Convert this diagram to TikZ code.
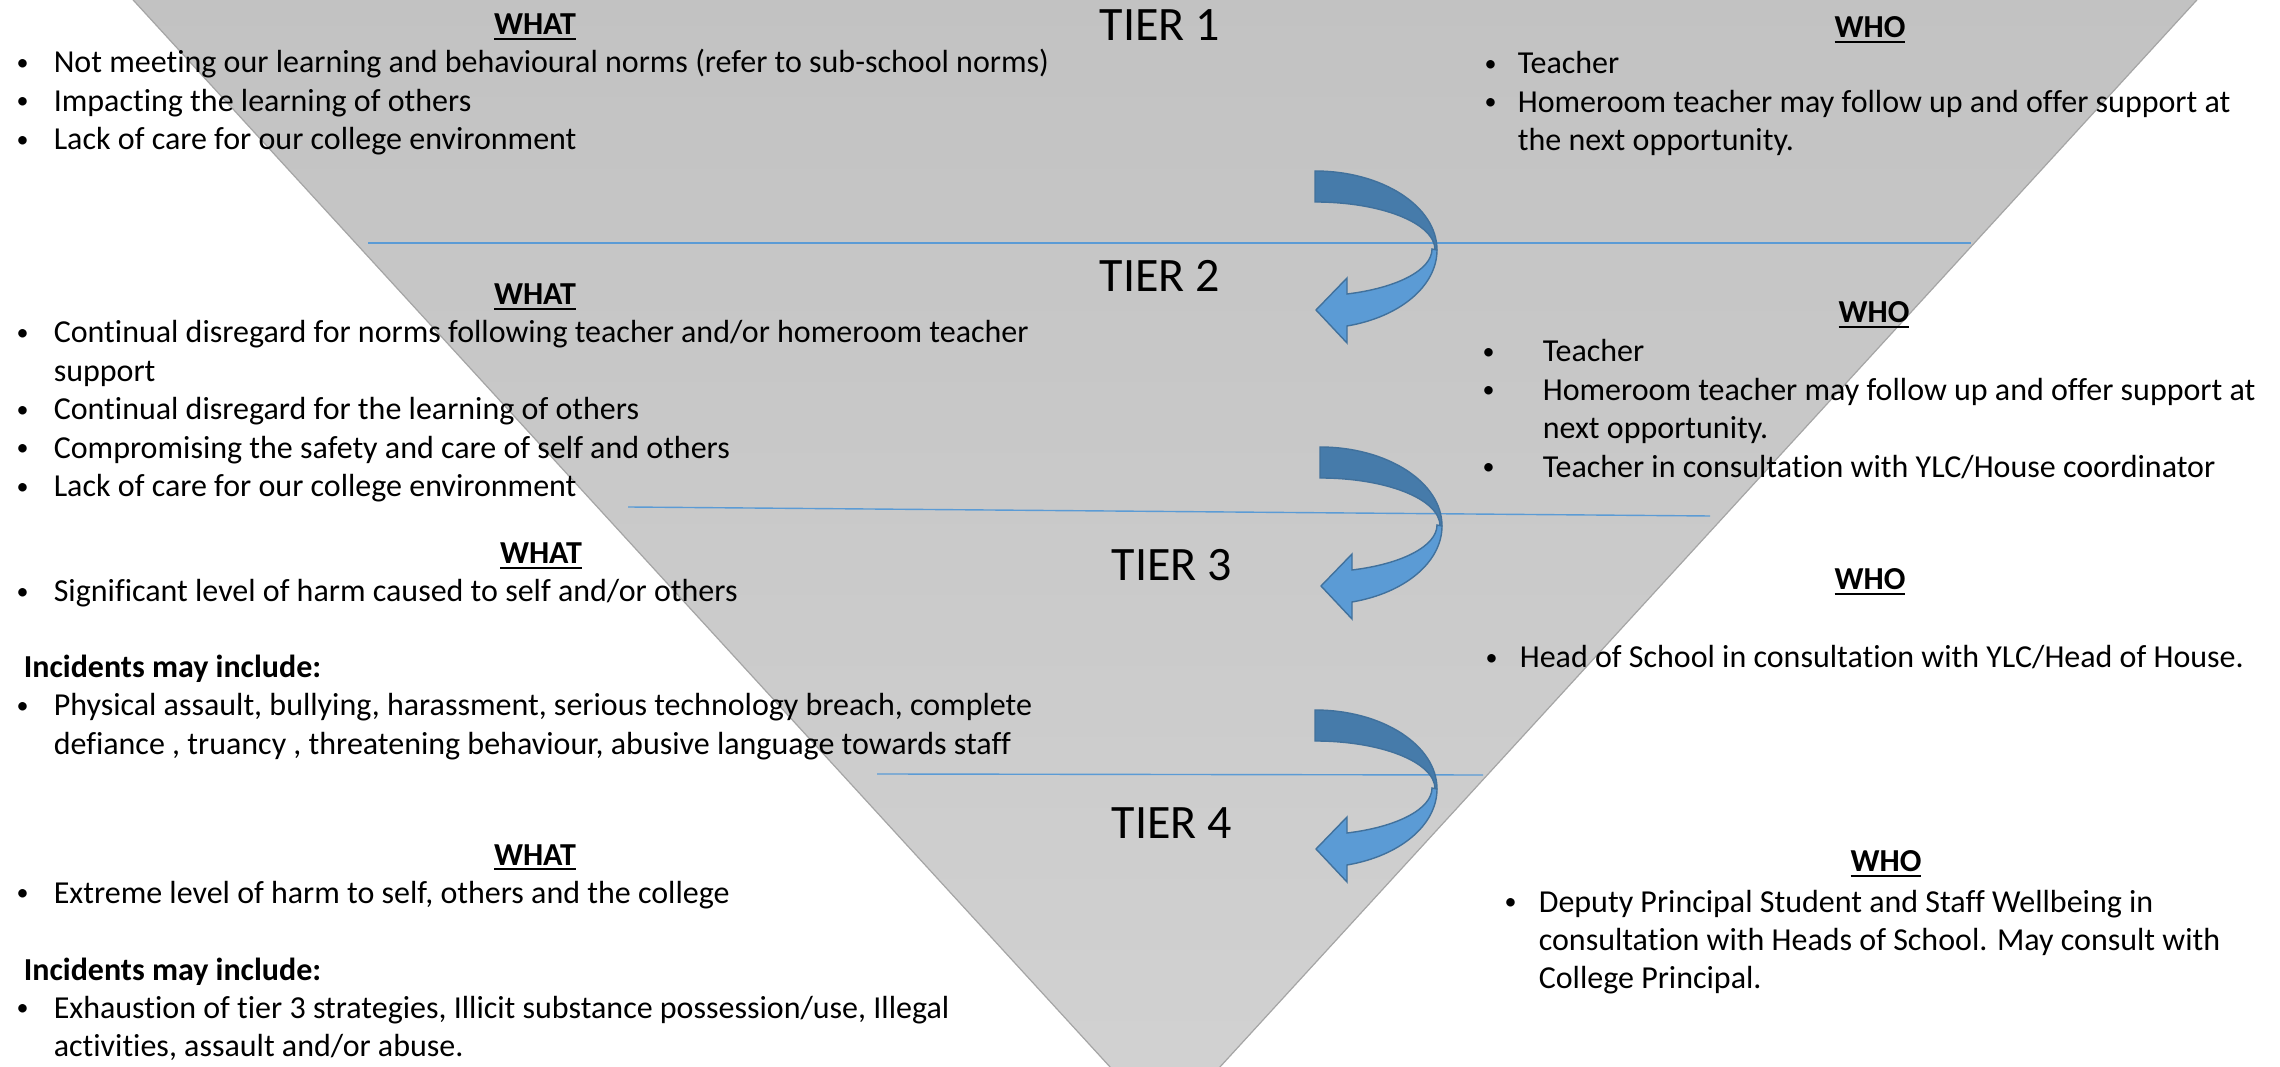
\documentclass[tikz,border=0pt]{standalone}
\usepackage{fontspec}
\setmainfont{Carlito}[Ligatures=NoCommon]

\definecolor{triTop}{HTML}{C2C2C2}
\definecolor{triBot}{HTML}{D2D2D2}
\definecolor{triEdge}{HTML}{A5A5A5}
\definecolor{lineBlue}{HTML}{5B9BD5}
\definecolor{arrDark}{HTML}{467BAA}
\definecolor{arrLight}{HTML}{5B9BD5}
\definecolor{arrEdge}{HTML}{41719C}

\newcommand{\bodyfont}{\fontsize{8pt}{9.6pt}\selectfont}
\newcommand{\tierfont}{\fontsize{12pt}{14.4pt}\selectfont}
\newcommand{\itemdot}{\hspace*{1.2pt}\raisebox{0.6pt}{\fontsize{6pt}{6pt}\selectfont\textbullet}}
\newcommand{\bitems}[2]{\begin{tabular}[t]{@{}p{#1}@{}l@{}}#2\end{tabular}}
\newlength{\uheadw}
\newcommand{\uhead}[1]{\settowidth{\uheadw}{#1}\rlap{\rule[-1.3pt]{\uheadw}{0.55pt}}#1}

\begin{document}
\begin{tikzpicture}[x=0.25pt,y=-0.25pt,
    body/.style={font=\bodyfont,inner sep=0pt,anchor=base west},
    head/.style={font=\bodyfont\bfseries,inner sep=0pt,anchor=base},
    tier/.style={font=\tierfont,inner sep=0pt,anchor=base},
    divider/.style={draw=lineBlue,line width=0.35pt}]
    \fill[white] (0,0) rectangle (2280,1067);
    \useasboundingbox (0,0) rectangle (2280,1067);

    % the pyramid
    \shade[top color=triTop,bottom color=triBot,draw=triEdge,line width=0.3pt]
        (124,-10) -- (2206,-10) -- (1165,1127) -- cycle;

    \draw[divider] (368,243) -- (1971,243);
    \draw[divider] (628,507) -- (1710,516);
    \draw[divider] (877,774) -- (1483,775);

    % curved arrows between tiers
    \foreach \ax/\ay in {1315/171,1320/447,1315/710} {
        \begin{scope}[shift={(\ax,\ay)},draw=arrEdge,line width=0.35pt]
            \filldraw[fill=arrDark] (0,0) .. controls (67,0) and (122,35) .. (122,79)
                -- (120,79) .. controls (120,52) and (66,31) .. (0,31) -- cycle;
            \filldraw[fill=arrLight] (122,79) .. controls (122,115) and (85,146) .. (32,155)
                -- (32,172) -- (1,139) -- (32,107) -- (32,123)
                .. controls (82,117) and (117,99) .. (117,78) -- cycle;
        \end{scope}
    }

    % tier labels
    \node[tier] (tier1) at (1160,41) {TIER 1};
    \node[tier] (tier2) at (1160,292) {TIER 2};
    \node[tier] (tier3) at (1172,581) {TIER 3};
    \node[tier] (tier4) at (1172,839) {TIER 4};

    % tier 1
    \node[head] (what1) at (535,35) {\uhead{WHAT}};
    \node[body] (what1list) at (11,73) {\bitems{10.5pt}{%
        \itemdot & Not meeting our learning and behavioural norms (refer to sub-school norms)\\
        \itemdot & Impacting the learning of others\\
        \itemdot & Lack of care for our college environment}};
    \node[head] (who1) at (1870,38) {\uhead{WHO}};
    \node[body] (who1list) at (1479,74) {\bitems{9.5pt}{%
        \itemdot & Teacher\\
        \itemdot & Homeroom teacher may follow up and offer support at\\
                 & the next opportunity.}};

    % tier 2
    \node[head] (what2) at (535,305) {\uhead{WHAT}};
    \node[body] (what2list) at (11,343) {\bitems{10.5pt}{%
        \itemdot & Continual disregard for norms following teacher and/or homeroom teacher\\
                 & support\\
        \itemdot & Continual disregard for the learning of others\\
        \itemdot & Compromising the safety and care of self and others\\
        \itemdot & Lack of care for our college environment}};
    \node[head] (who2) at (1874,323) {\uhead{WHO}};
    \node[body] (who2list) at (1477,362) {\bitems{16.25pt}{%
        \itemdot & Teacher\\
        \itemdot & Homeroom teacher may follow up and offer support at\\
                 & next opportunity.\\
        \itemdot & Teacher in consultation with YLC/House coordinator}};

    % tier 3
    \node[head] (what3) at (541,564) {\uhead{WHAT}};
    \node[body] (what3list) at (11,602) {\bitems{10.5pt}{%
        \itemdot & Significant level of harm caused to self and/or others}};
    \node[body,font=\bodyfont\bfseries] (inc3) at (23,678) {Incidents may include:};
    \node[body] (inc3list) at (11,716) {\bitems{10.5pt}{%
        \itemdot & Physical assault, bullying, harassment, serious technology breach, complete\\
                 & defiance , truancy , threatening behaviour, abusive language towards staff}};
    \node[head] (who3) at (1870,590) {\uhead{WHO}};
    \node[body] (who3list) at (1480,668) {\bitems{9.75pt}{%
        \itemdot & Head of School in consultation with YLC/Head of House.}};

    % tier 4
    \node[head] (what4) at (535,865) {\uhead{WHAT}};
    \node[body] (what4list) at (11,903) {\bitems{10.5pt}{%
        \itemdot & Extreme level of harm to self, others and the college}};
    \node[body,font=\bodyfont\bfseries] (inc4) at (23,980) {Incidents may include:};
    \node[body] (inc4list) at (11,1018) {\bitems{10.5pt}{%
        \itemdot & Exhaustion of tier 3 strategies, Illicit substance possession/use, Illegal\\
                 & activities, assault and/or abuse.}};
    \node[head] (who4) at (1886,872) {\uhead{WHO}};
    \node[body] (who4list) at (1499,912) {\bitems{9.75pt}{%
        \itemdot & Deputy Principal Student and Staff Wellbeing in\\
                 & consultation with Heads of School. May consult with\\
                 & College Principal.}};
\end{tikzpicture}
\end{document}
